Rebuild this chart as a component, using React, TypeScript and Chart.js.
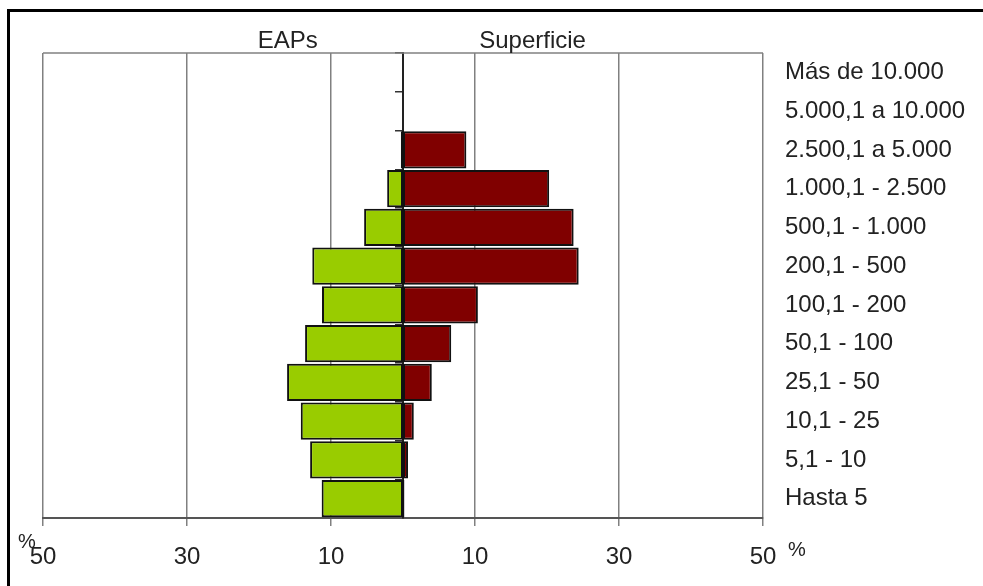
import React, { useEffect, useRef } from "react";
import { Chart, registerables } from "chart.js";

Chart.register(...registerables);

// ---- data (top row first) ----
const categories = [
  "Más de 10.000",
  "5.000,1 a 10.000",
  "2.500,1 a 5.000",
  "1.000,1 - 2.500",
  "500,1 - 1.000",
  "200,1 - 500",
  "100,1 - 200",
  "50,1 - 100",
  "25,1 - 50",
  "10,1 - 25",
  "5,1 - 10",
  "Hasta 5",
];
const eapsPct = [0, 0, 0.3, 2.2, 5.4, 12.6, 11.25, 13.6, 16.1, 14.2, 12.9, 11.3];
const superficiePct = [0, 0, 8.8, 20.3, 23.7, 24.4, 10.4, 6.7, 4.0, 1.5, 0.7, 0.2];
const xTickValues = [-50, -30, -10, 10, 30, 50];
const seriesTitles = ["EAPs", "Superficie"];
const unitLabel = "%";

const FONT = "'Liberation Sans', Arial, sans-serif";
const TEXT = "#222222";

const decorPlugin = {
  id: "decor",
  beforeDatasetsDraw(chart: any) {
    const { ctx, chartArea } = chart;
    ctx.save();
    ctx.strokeStyle = "#808080";
    ctx.lineWidth = 1.5;
    ctx.beginPath();
    ctx.moveTo(chartArea.left, chartArea.top);
    ctx.lineTo(chartArea.right, chartArea.top);
    ctx.stroke();
    ctx.restore();
  },
  afterDraw(chart: any) {
    const { ctx, chartArea } = chart;
    const xs = chart.scales.x;
    ctx.save();
    ctx.fillStyle = TEXT;
    ctx.textAlign = "center";
    ctx.textBaseline = "middle";
    ctx.font = `24px ${FONT}`;
    ctx.fillText(seriesTitles[0], xs.getPixelForValue(-16), chartArea.top - 12);
    ctx.fillText(seriesTitles[1], xs.getPixelForValue(18), chartArea.top - 12);
    ctx.font = `20px ${FONT}`;
    ctx.fillText(unitLabel, chartArea.left - 16, chartArea.bottom + 24);
    ctx.fillText(unitLabel, chartArea.right + 34, chartArea.bottom + 32);
    ctx.restore();
  },
};

export default function App() {
  const canvasRef = useRef<HTMLCanvasElement | null>(null);

  useEffect(() => {
    if (!canvasRef.current) return;
    const chart = new Chart(canvasRef.current, {
      type: "bar",
      data: {
        labels: categories,
        datasets: [
          {
            label: seriesTitles[0],
            data: eapsPct.map((v) => -v),
            backgroundColor: "#99CC00",
            borderColor: "#111111",
            borderWidth: 2,
            borderSkipped: false,
            barPercentage: 0.955,
            categoryPercentage: 1,
          },
          {
            label: seriesTitles[1],
            data: superficiePct,
            backgroundColor: "#800000",
            borderColor: "#111111",
            borderWidth: 2,
            borderSkipped: false,
            barPercentage: 0.955,
            categoryPercentage: 1,
          },
        ],
      },
      options: {
        indexAxis: "y",
        animation: false,
        responsive: true,
        maintainAspectRatio: false,
        layout: { padding: { left: 43, top: 53, right: 0, bottom: 0 } },
        plugins: {
          legend: { display: false },
          tooltip: { enabled: false },
          title: { display: false },
        },
        scales: {
          x: {
            type: "linear",
            min: -50,
            max: 50,
            stacked: true,
            afterBuildTicks: (s: any) => {
              s.ticks = xTickValues.map((v) => ({ value: v }));
            },
            afterFit: (s: any) => {
              s.height = 68;
            },
            grid: {
              color: "#808080",
              lineWidth: 1.5,
              drawTicks: true,
              tickLength: 8,
              tickColor: "#808080",
            },
            border: { display: true, color: "#555555", width: 2 },
            ticks: {
              color: TEXT,
              font: { family: FONT, size: 24 },
              padding: 17,
              maxRotation: 0,
              callback: (v: any) => String(Math.abs(Number(v))),
            },
          },
          y: {
            type: "category",
            stacked: true,
            offset: true,
            position: { x: 0 } as any,
            grid: {
              drawOnChartArea: false,
              drawTicks: true,
              tickLength: 7,
              tickColor: "#333333",
              lineWidth: 1.5,
            },
            border: { display: true, color: "#222222", width: 2 },
            ticks: { display: false },
          },
          y2: {
            type: "category",
            labels: categories,
            position: "right",
            offset: true,
            grid: { display: false, drawTicks: false },
            border: { display: false },
            afterFit: (s: any) => {
              s.width = 220;
            },
            ticks: {
              color: TEXT,
              font: { family: FONT, size: 24 },
              padding: 22,
            },
          },
        },
      } as any,
      plugins: [decorPlugin],
    });
    return () => chart.destroy();
  }, []);

  return (
    <div style={{ position: "fixed", left: 0, top: 0, width: 983, height: 586, background: "#ffffff", overflow: "hidden" }}>
      <div
        style={{
          position: "absolute",
          left: 7,
          top: 9,
          width: 1000,
          height: 1000,
          borderTop: "3px solid #000",
          borderLeft: "3px solid #000",
        }}
      />
      <div style={{ position: "absolute", left: 0, top: 0, width: 983, height: 586 }}>
        <canvas ref={canvasRef} />
      </div>
    </div>
  );
}
